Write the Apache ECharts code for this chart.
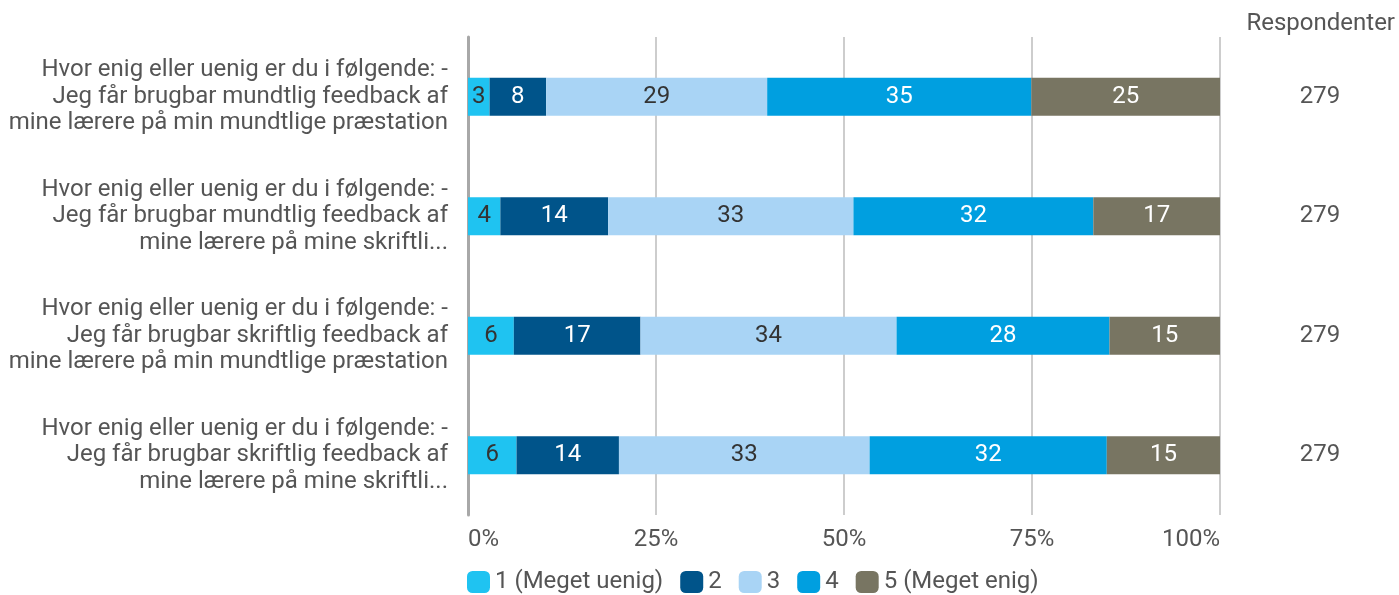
<!DOCTYPE html>
<html>
<head>
<meta charset="utf-8">
<script src="https://cdn.jsdelivr.net/npm/echarts@6/dist/echarts.min.js"></script>
<style>
  html, body { margin: 0; padding: 0; background: #fff; }
  #chart { width: 1399px; height: 595px; }
</style>
</head>
<body>
<div id="chart"></div>
<script>
// spørgsmål (kategorier)
const questions = [
  'Hvor enig eller uenig er du i følgende: -\nJeg får brugbar mundtlig feedback af\nmine lærere på min mundtlige præstation',
  'Hvor enig eller uenig er du i følgende: -\nJeg får brugbar mundtlig feedback af\nmine lærere på mine skriftli...',
  'Hvor enig eller uenig er du i følgende: -\nJeg får brugbar skriftlig feedback af\nmine lærere på min mundtlige præstation',
  'Hvor enig eller uenig er du i følgende: -\nJeg får brugbar skriftlig feedback af\nmine lærere på mine skriftli...'
]
const respondents = [279, 279, 279, 279]

// antal svar pr. svarmulighed (aflæst fra bjælkebredder)
const answer1 = [8, 12, 17, 18]
const answer2 = [21, 40, 47, 38]
const answer3 = [82, 91, 95, 93]
const answer4 = [98, 89, 79, 88]
const answer5 = [70, 47, 41, 42]

const seriesNames = ['1 (Meget uenig)', '2', '3', '4', '5 (Meget enig)']
const percentTicks = ['0%', '25%', '50%', '75%', '100%']

const total = respondents[0]
const FONT = 'Roboto, "Noto Sans", sans-serif'
const TXT = '#555555'

const chart = echarts.init(document.getElementById('chart'), null, { renderer: 'canvas' })

function barSeries(name, data, color, labelColor) {
  return {
    name,
    type: 'bar',
    stack: 'all',
    barWidth: 38,
    data,
    itemStyle: { color },
    label: {
      show: true,
      position: 'inside',
      color: labelColor,
      fontFamily: FONT,
      fontSize: 24,
      formatter: p => Math.round(p.value / total * 100)
    },
    emphasis: { disabled: true }
  }
}

chart.setOption({
  backgroundColor: '#ffffff',
  animation: false,
  textStyle: { fontFamily: FONT },
  title: {
    text: 'Respondenter',
    right: 4,
    top: 12,
    padding: 0,
    textStyle: { color: TXT, fontFamily: FONT, fontSize: 24, fontWeight: 'normal' }
  },
  legend: {
    left: 467,
    top: 570,
    padding: 0,
    itemWidth: 23,
    itemHeight: 22,
    itemGap: 17,
    icon: 'roundRect',
    textStyle: { color: TXT, fontFamily: FONT, fontSize: 24 },
    data: seriesNames
  },
  grid: { left: 468, right: 179, top: 37, bottom: 80 },
  xAxis: {
    type: 'value',
    min: 0,
    max: total,
    interval: total / 4,
    axisLine: { show: false },
    axisTick: { show: false },
    splitLine: { lineStyle: { color: '#bdbdbd', width: 1.5 } },
    axisLabel: {
      color: TXT,
      fontFamily: FONT,
      fontSize: 24,
      margin: 13,
      alignMinLabel: 'left',
      alignMaxLabel: 'right',
      formatter: (v, i) => percentTicks[i]
    }
  },
  yAxis: [
    {
      type: 'category',
      inverse: true,
      data: questions,
      axisLine: { show: true, lineStyle: { color: '#a8a8a8', width: 3 } },
      axisTick: { show: false },
      axisLabel: {
        color: TXT,
        fontFamily: FONT,
        fontSize: 24,
        lineHeight: 26.5,
        align: 'right',
        margin: 20
      }
    },
    {
      type: 'category',
      inverse: true,
      position: 'right',
      offset: 100,
      data: respondents.map(String),
      axisLine: { show: false },
      axisTick: { show: false },
      axisLabel: {
        color: TXT,
        fontFamily: FONT,
        fontSize: 24,
        align: 'center',
        margin: 0
      }
    }
  ],
  series: [
    barSeries(seriesNames[0], answer1, '#1fc3f1', '#333333'),
    barSeries(seriesNames[1], answer2, '#00548a', '#ffffff'),
    barSeries(seriesNames[2], answer3, '#a9d4f5', '#333333'),
    barSeries(seriesNames[3], answer4, '#009fe0', '#ffffff'),
    barSeries(seriesNames[4], answer5, '#787562', '#ffffff')
  ]
})
</script>
</body>
</html>
